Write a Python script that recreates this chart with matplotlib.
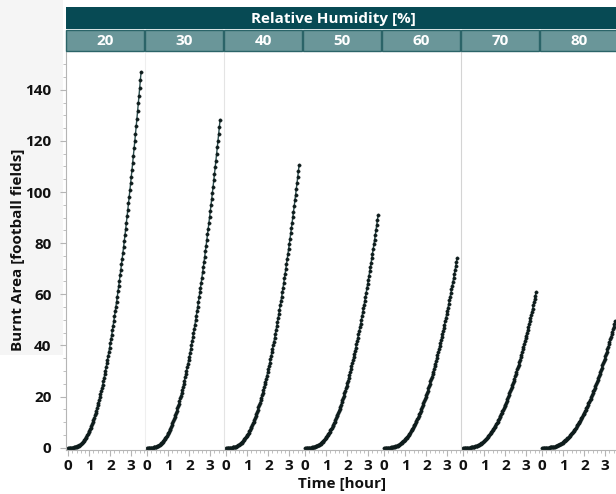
import matplotlib
matplotlib.use("Agg")
import matplotlib.pyplot as plt
from matplotlib.patches import Rectangle
from matplotlib.ticker import MultipleLocator

# ---------------- data ----------------
humidity = ["20", "30", "40", "50", "60", "70", "80"]
time_min = [0, 2, 4, 6, 8, 10, 12, 14, 16, 18, 20, 22, 24, 26, 28, 30, 32, 34, 36, 38,
            40, 42, 44, 46, 48, 50, 52, 54, 56, 58, 60, 62, 64, 66, 68, 70, 72, 74, 76,
            78, 80, 82, 84, 86, 88, 90, 92, 94, 96, 98, 100, 102, 104, 106, 108, 110,
            112, 114, 116, 118, 120, 122, 124, 126, 128, 130, 132, 134, 136, 138, 140,
            142, 144, 146, 148, 150, 152, 154, 156, 158, 160, 162, 164, 166, 168, 170,
            172, 174, 176, 178, 180, 182, 184, 186, 188, 190, 192, 194, 196, 198, 200,
            202, 204, 206, 208]

area_rh20 = [0.0, 0.0, 0.0, 0.0, 0.01, 0.02, 0.03, 0.06, 0.09, 0.14, 0.2, 0.28, 0.37,
             0.49, 0.62, 0.78, 0.96, 1.17, 1.41, 1.67, 1.96, 2.28, 2.63, 3.01, 3.42, 3.87,
             4.34, 4.85, 5.39, 5.97, 6.57, 7.21, 7.89, 8.60, 9.34, 10.12, 10.93, 11.78,
             12.66, 13.57, 14.52, 15.51, 16.52, 17.58, 18.67, 19.8, 20.95, 22.15, 23.37,
             24.64, 25.93, 27.27, 28.64, 30.04, 31.47, 32.94, 34.44, 35.99, 37.56, 39.17,
             40.81, 42.49, 44.2, 45.94, 47.72, 49.54, 51.39, 53.27, 55.18, 57.14, 59.12,
             61.15, 63.2, 65.29, 67.41, 69.57, 71.75, 73.99, 76.25, 78.54, 80.86, 83.23,
             85.63, 88.06, 90.52, 93.03, 95.55, 98.13, 100.72, 103.36, 106.03, 108.74,
             111.47, 114.25, 117.04, 119.9, 122.76, 125.68, 128.63, 131.6, 134.61, 137.65,
             140.72, 143.85, 147.0]
area_rh30 = [0.0, 0.0, 0.0, 0.0, 0.01, 0.01, 0.03, 0.05, 0.08, 0.12, 0.17, 0.24, 0.32,
             0.42, 0.54, 0.68, 0.84, 1.02, 1.23, 1.46, 1.71, 1.99, 2.30, 2.63, 2.99, 3.37,
             3.79, 4.23, 4.70, 5.21, 5.74, 6.30, 6.89, 7.50, 8.15, 8.83, 9.54, 10.28,
             11.05, 11.85, 12.68, 13.54, 14.42, 15.35, 16.29, 17.28, 18.28, 19.33, 20.40,
             21.5, 22.63, 23.8, 24.99, 26.21, 27.47, 28.75, 30.06, 31.41, 32.78, 34.18,
             35.62, 37.08, 38.58, 40.1, 41.65, 43.24, 44.85, 46.49, 48.16, 49.87, 51.6,
             53.37, 55.16, 56.98, 58.84, 60.72, 62.62, 64.58, 66.55, 68.55, 70.58, 72.65,
             74.73, 76.86, 79.01, 81.19, 83.4, 85.65, 87.91, 90.22, 92.54, 94.9, 97.29,
             99.71, 102.15, 104.64, 107.14, 109.69, 112.26, 114.86, 117.48, 120.14,
             122.82, 125.55, 128.3]
area_rh40 = [0.0, 0.0, 0.0, 0.0, 0.01, 0.01, 0.02, 0.04, 0.07, 0.10, 0.15, 0.21, 0.28,
             0.37, 0.47, 0.59, 0.72, 0.88, 1.06, 1.26, 1.47, 1.71, 1.98, 2.26, 2.57, 2.91,
             3.26, 3.65, 4.05, 4.48, 4.94, 5.42, 5.93, 6.46, 7.02, 7.61, 8.22, 8.85, 9.52,
             10.2, 10.92, 11.66, 12.42, 13.22, 14.03, 14.88, 15.75, 16.65, 17.57, 18.52,
             19.49, 20.5, 21.53, 22.58, 23.66, 24.76, 25.89, 27.05, 28.23, 29.44, 30.67,
             31.94, 33.23, 34.54, 35.87, 37.24, 38.63, 40.04, 41.48, 42.95, 44.44, 45.96,
             47.5, 49.08, 50.68, 52.3, 53.94, 55.62, 57.32, 59.04, 60.79, 62.57, 64.37,
             66.2, 68.05, 69.93, 71.83, 73.76, 75.71, 77.7, 79.70, 81.74, 83.79, 85.88,
             87.98, 90.13, 92.28, 94.47, 96.69, 98.92, 101.18, 103.47, 105.78, 108.13,
             110.5]
area_rh50 = [0.0, 0.0, 0.0, 0.0, 0.0, 0.01, 0.02, 0.03, 0.06, 0.08, 0.12, 0.17, 0.23,
             0.30, 0.38, 0.48, 0.60, 0.73, 0.87, 1.03, 1.21, 1.41, 1.63, 1.86, 2.12, 2.39,
             2.69, 3.0, 3.33, 3.69, 4.06, 4.46, 4.88, 5.32, 5.78, 6.26, 6.76, 7.28, 7.83,
             8.39, 8.98, 9.59, 10.22, 10.87, 11.54, 12.24, 12.95, 13.70, 14.45, 15.24,
             16.03, 16.86, 17.71, 18.57, 19.46, 20.37, 21.30, 22.25, 23.22, 24.22, 25.23,
             26.27, 27.33, 28.41, 29.51, 30.63, 31.78, 32.94, 34.12, 35.33, 36.56, 37.81,
             39.08, 40.37, 41.69, 43.02, 44.37, 45.75, 47.15, 48.57, 50.0, 51.47, 52.95,
             54.45, 55.98, 57.52, 59.09, 60.68, 62.28, 63.92, 65.57, 67.24, 68.93, 70.65,
             72.37, 74.14, 75.91, 77.72, 79.54, 81.38, 83.24, 85.12, 87.02, 88.95, 90.9]
area_rh60 = [0.0, 0.0, 0.0, 0.0, 0.0, 0.01, 0.02, 0.03, 0.05, 0.07, 0.10, 0.14, 0.19,
             0.24, 0.31, 0.39, 0.49, 0.59, 0.71, 0.84, 0.99, 1.15, 1.33, 1.52, 1.73, 1.95,
             2.19, 2.44, 2.72, 3.01, 3.31, 3.64, 3.98, 4.33, 4.71, 5.10, 5.51, 5.94, 6.38,
             6.84, 7.32, 7.82, 8.33, 8.86, 9.41, 9.98, 10.56, 11.16, 11.78, 12.42, 13.07,
             13.74, 14.43, 15.14, 15.86, 16.61, 17.36, 18.14, 18.93, 19.74, 20.57, 21.42,
             22.28, 23.16, 24.05, 24.97, 25.91, 26.85, 27.82, 28.8, 29.80, 30.82, 31.86,
             32.91, 33.98, 35.07, 36.17, 37.3, 38.44, 39.59, 40.76, 41.96, 43.16, 44.39,
             45.63, 46.89, 48.17, 49.46, 50.77, 52.1, 53.45, 54.81, 56.19, 57.59, 59.0,
             60.44, 61.88, 63.35, 64.84, 66.34, 67.85, 69.39, 70.94, 72.51, 74.1]
area_rh70 = [0.0, 0.0, 0.0, 0.0, 0.0, 0.01, 0.01, 0.02, 0.04, 0.06, 0.08, 0.11, 0.15,
             0.20, 0.26, 0.32, 0.40, 0.49, 0.58, 0.69, 0.81, 0.94, 1.09, 1.25, 1.42, 1.60,
             1.80, 2.01, 2.23, 2.47, 2.72, 2.98, 3.26, 3.56, 3.86, 4.19, 4.52, 4.87, 5.24,
             5.61, 6.01, 6.41, 6.83, 7.27, 7.72, 8.19, 8.66, 9.16, 9.67, 10.19, 10.73,
             11.28, 11.84, 12.42, 13.02, 13.62, 14.25, 14.88, 15.53, 16.2, 16.88, 17.57,
             18.28, 19.0, 19.74, 20.49, 21.26, 22.03, 22.82, 23.63, 24.45, 25.29, 26.14,
             27.0, 27.88, 28.78, 29.68, 30.6, 31.54, 32.49, 33.45, 34.43, 35.42, 36.42,
             37.44, 38.48, 39.52, 40.59, 41.66, 42.75, 43.86, 44.97, 46.10, 47.25, 48.41,
             49.59, 50.77, 51.98, 53.20, 54.43, 55.67, 56.93, 58.20, 59.5, 60.8]
area_rh80 = [0.0, 0.0, 0.0, 0.0, 0.0, 0.01, 0.01, 0.02, 0.03, 0.05, 0.07, 0.09, 0.12,
             0.16, 0.21, 0.26, 0.32, 0.40, 0.47, 0.56, 0.66, 0.77, 0.89, 1.01, 1.15, 1.30,
             1.46, 1.63, 1.82, 2.01, 2.21, 2.43, 2.66, 2.90, 3.15, 3.41, 3.68, 3.97, 4.26,
             4.57, 4.89, 5.22, 5.56, 5.92, 6.29, 6.67, 7.05, 7.46, 7.87, 8.30, 8.73, 9.18,
             9.64, 10.11, 10.60, 11.09, 11.60, 12.12, 12.65, 13.19, 13.74, 14.31, 14.88,
             15.47, 16.07, 16.68, 17.31, 17.94, 18.58, 19.24, 19.91, 20.59, 21.28, 21.99,
             22.70, 23.43, 24.16, 24.91, 25.68, 26.45, 27.23, 28.03, 28.83, 29.65, 30.48,
             31.33, 32.18, 33.04, 33.92, 34.81, 35.70, 36.62, 37.54, 38.47, 39.41, 40.37,
             41.34, 42.32, 43.31, 44.31, 45.33, 46.35, 47.39, 48.44, 49.5]
areas = [area_rh20, area_rh30, area_rh40, area_rh50, area_rh60, area_rh70, area_rh80]

x_ticks = [0, 1, 2, 3]
y_ticks = [0, 20, 40, 60, 80, 100, 120, 140]

# ---------------- layout ----------------
W, H = 616, 494
FONT = "Open Sans"
DARK = "#074a54"
LIGHT = "#6a9699"
EDGE = "#2b6468"
TXT = "#111111"
GRID = "#b5b5b5"
FS = 11

fig = plt.figure(figsize=(W / 100, H / 100), dpi=100)
fig.patch.set_facecolor("white")

def fx(px):
    return px / W

def fy(py):
    return 1 - py / H

# light gray area behind y label (drawn below the axes)
fig.patches.append(Rectangle((0, fy(355)), fx(63), fy(0) - fy(355),
                             transform=fig.transFigure, facecolor="#f5f5f5",
                             edgecolor="none", zorder=-10))

left0 = 65.5
pw = 79.0
top_px, bot_px = 52.0, 449.5
t_hours = [m / 60 for m in time_min]

for i, (lab, vals) in enumerate(zip(humidity, areas)):
    ax = fig.add_axes([fx(left0 + i * pw), fy(bot_px), fx(pw), (bot_px - top_px) / H])
    ax.set_facecolor("none")
    ax.plot(t_hours, vals, color="#2d4f4f", lw=1.0, zorder=2,
            marker="o", ms=2.4, mfc="#0e1c1c", mec="#0e1c1c", mew=0.3)
    ax.set_xlim(-0.133, 3.629)
    ax.set_ylim(-0.7, 154.75)
    ax.set_xticks(x_ticks)
    ax.xaxis.set_minor_locator(MultipleLocator(0.2))
    ax.set_xticklabels([str(v) for v in x_ticks], fontfamily=FONT,
                       fontweight="bold", fontsize=FS, color=TXT)
    ax.tick_params(axis="x", which="major", length=4, color=GRID, pad=2.5)
    ax.tick_params(axis="x", which="minor", length=2, color=GRID)
    for s in ["top", "right"]:
        ax.spines[s].set_visible(False)
    ax.spines["bottom"].set_color(GRID)
    ax.spines["bottom"].set_linewidth(0.8)
    if i == 0:
        ax.set_yticks(y_ticks)
        ax.yaxis.set_minor_locator(MultipleLocator(5))
        ax.set_yticklabels([str(v) for v in y_ticks], fontfamily=FONT,
                           fontweight="bold", fontsize=FS, color=TXT)
        ax.tick_params(axis="y", which="major", length=4, color=GRID, pad=6)
        ax.tick_params(axis="y", which="minor", length=2, color=GRID)
        ax.spines["left"].set_color(GRID)
        ax.spines["left"].set_linewidth(0.8)
    else:
        ax.set_yticks([])
        ax.spines["left"].set_visible(False)

# faint panel separators
for px_x, col in [(144.5, "#efefef"), (223.5, "#e4e4e4"), (460.5, "#d4d4d4")]:
    fig.add_artist(plt.Line2D([fx(px_x), fx(px_x)], [fy(bot_px - 2), fy(top_px)],
                              transform=fig.transFigure, color=col, lw=0.8, zorder=1))

# header bands
fig.patches.append(Rectangle((fx(65.5), fy(29.5)), fx(W - 65.5) + 0.01, fy(7.5) - fy(29.5),
                             transform=fig.transFigure, facecolor=DARK,
                             edgecolor="none", zorder=3))
fig.text(fx(333), fy(18.5), "Relative Humidity [%]", ha="center", va="center",
         color="white", fontfamily=FONT, fontweight="bold", fontsize=FS, zorder=4)
for i, lab in enumerate(humidity):
    x0 = left0 + i * pw
    fig.patches.append(Rectangle((fx(x0 + 0.5), fy(51.5)), fx(pw - 1), fy(30.5) - fy(51.5),
                                 transform=fig.transFigure, facecolor=LIGHT,
                                 edgecolor=EDGE, lw=1.0, zorder=3))
    fig.text(fx(x0 + pw / 2), fy(41), lab, ha="center", va="center", color="white",
             fontfamily=FONT, fontweight="bold", fontsize=FS, zorder=4)

fig.text(fx(18), fy(250), "Burnt Area [football fields]", rotation=90, ha="center",
         va="center", color=TXT, fontfamily=FONT, fontweight="bold", fontsize=FS)
fig.text(fx(342), fy(484), "Time [hour]", ha="center", va="center", color=TXT,
         fontfamily=FONT, fontweight="bold", fontsize=FS)

fig.savefig("out.png", dpi=100)
